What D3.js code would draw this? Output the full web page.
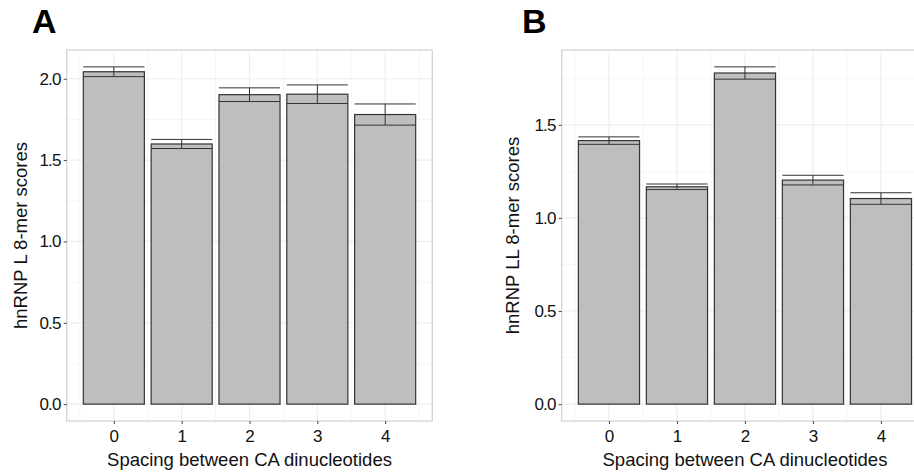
<!DOCTYPE html>
<html>
<head>
<meta charset="utf-8">
<script src="https://cdn.jsdelivr.net/npm/d3@7"></script>
<style>
  body { margin: 0; background: #fff; overflow: hidden; }
  svg { display: block; font-family: Arial, "Liberation Sans", sans-serif; }
</style>
</head>
<body>
<div id="chart"></div>
<script>
// spacing between CA dinucleotides
const spacing = [0, 1, 2, 3, 4];
const xTicks = [0, 1, 2, 3, 4];

// panel A: hnRNP L
const meanL = [2.043, 1.599, 1.902, 1.905, 1.780];
const seL = [0.030, 0.028, 0.042, 0.057, 0.065];
const yTicksL = [0.0, 0.5, 1.0, 1.5, 2.0];

// panel B: hnRNP LL
const meanLL = [1.415, 1.167, 1.778, 1.203, 1.104];
const seLL = [0.020, 0.015, 0.033, 0.026, 0.031];
const yTicksLL = [0.0, 0.5, 1.0, 1.5];

const W = 914, H = 472;
const svg = d3.select("#chart").append("svg").attr("width", W).attr("height", H);

function drawPanel(o) {
  const data = spacing.map((s, i) => ({ s, m: o.mean[i], lo: o.mean[i] - o.se[i], hi: o.mean[i] + o.se[i] }));
  const barW = 0.9;
  // continuous x, ggplot-like 5% expansion around bar extents
  const xmin = d3.min(spacing) - barW / 2, xmax = d3.max(spacing) + barW / 2;
  const xpad = (xmax - xmin) * 0.05;
  const x = d3.scaleLinear().domain([xmin - xpad, xmax + xpad]).range([o.left, o.left + o.width]);
  const ytop = d3.max(data, d => d.hi);
  const ypad = ytop * 0.05;
  const y = d3.scaleLinear().domain([-ypad, ytop + ypad]).range([o.bottom, o.top]);

  const g = svg.append("g");

  // minor grid
  const xMinor = d3.range(x.domain()[0], x.domain()[1], 0.5).map(v => Math.round(v * 2) / 2).filter(v => !xTicks.includes(v) && v > x.domain()[0]);
  const yMinor = d3.range(-0.25, ytop + ypad, 0.25).filter(v => !o.yTicks.some(t => Math.abs(t - v) < 1e-6) && v > y.domain()[0]);
  g.selectAll(".gxm").data(xMinor).enter().append("line")
    .attr("x1", d => x(d)).attr("x2", d => x(d)).attr("y1", o.top).attr("y2", o.bottom)
    .attr("stroke", "#f6f6f6").attr("stroke-width", 1);
  g.selectAll(".gym").data(yMinor).enter().append("line")
    .attr("x1", o.left).attr("x2", o.left + o.width).attr("y1", d => y(d)).attr("y2", d => y(d))
    .attr("stroke", "#f6f6f6").attr("stroke-width", 1);
  // major grid
  g.selectAll(".gx").data(xTicks).enter().append("line")
    .attr("x1", d => x(d)).attr("x2", d => x(d)).attr("y1", o.top).attr("y2", o.bottom)
    .attr("stroke", "#eeeeee").attr("stroke-width", 1.2);
  g.selectAll(".gy").data(o.yTicks).enter().append("line")
    .attr("x1", o.left).attr("x2", o.left + o.width).attr("y1", d => y(d)).attr("y2", d => y(d))
    .attr("stroke", "#eeeeee").attr("stroke-width", 1.2);

  // bars
  g.selectAll(".bar").data(data).enter().append("rect")
    .attr("x", d => x(d.s - barW / 2))
    .attr("width", d => x(d.s + barW / 2) - x(d.s - barW / 2))
    .attr("y", d => y(d.m))
    .attr("height", d => y(0) - y(d.m))
    .attr("fill", "#bebebe").attr("stroke", "#333").attr("stroke-width", 1.2);

  // error bars
  const eb = g.selectAll(".eb").data(data).enter().append("g");
  eb.append("line")
    .attr("x1", d => x(d.s)).attr("x2", d => x(d.s)).attr("y1", d => y(d.lo)).attr("y2", d => y(d.hi))
    .attr("stroke", "#333").attr("stroke-width", 1);
  eb.append("line")
    .attr("x1", d => x(d.s - barW / 2)).attr("x2", d => x(d.s + barW / 2)).attr("y1", d => y(d.hi)).attr("y2", d => y(d.hi))
    .attr("stroke", "#333").attr("stroke-width", 1);
  eb.append("line")
    .attr("x1", d => x(d.s - barW / 2)).attr("x2", d => x(d.s + barW / 2)).attr("y1", d => y(d.lo)).attr("y2", d => y(d.lo))
    .attr("stroke", "#333").attr("stroke-width", 1);

  // panel border
  g.append("rect").attr("x", o.left).attr("y", o.top).attr("width", o.width).attr("height", o.bottom - o.top)
    .attr("fill", "none").attr("stroke", "#d4d4d4").attr("stroke-width", 1.3);

  // axes
  const yAxis = g.append("g").attr("transform", `translate(${o.left},0)`)
    .call(d3.axisLeft(y).tickValues(o.yTicks).tickFormat(d3.format(".1f")).tickSize(3).tickPadding(3));
  yAxis.select(".domain").remove();
  yAxis.selectAll("line").attr("stroke", "#444");
  yAxis.selectAll("text").attr("font-size", 17).attr("fill", "#111").attr("letter-spacing", "-0.8px")
    .attr("font-family", "Arial, 'Liberation Sans', sans-serif");

  const xAxis = g.append("g").attr("transform", `translate(0,${o.bottom})`)
    .call(d3.axisBottom(x).tickValues(xTicks).tickFormat(d3.format("d")).tickSize(3).tickPadding(6));
  xAxis.select(".domain").remove();
  xAxis.selectAll("line").attr("stroke", "#444");
  xAxis.selectAll("text").attr("font-size", 17).attr("fill", "#111")
    .attr("font-family", "Arial, 'Liberation Sans', sans-serif");

  // titles
  g.append("text").attr("x", x((xmin + xmax) / 2)).attr("y", 465.5)
    .attr("text-anchor", "middle").attr("font-size", 18.5).attr("fill", "#111")
    .text("Spacing between CA dinucleotides");
  g.append("text").attr("transform", `translate(${o.ytitleX},${(o.top + o.bottom) / 2}) rotate(-90)`)
    .attr("text-anchor", "middle").attr("font-size", 18.5).attr("fill", "#111")
    .text(o.ytitle);
  svg.append("text").attr("x", o.tagX).attr("y", 33)
    .attr("font-size", 34).attr("font-weight", "bold").attr("fill", "#000").text(o.tag);
}

drawPanel({ mean: meanL, se: seL, yTicks: yTicksL, left: 66.7, width: 365.6, top: 50, bottom: 421,
  ytitle: "hnRNP L 8-mer scores", ytitleX: 27, tag: "A", tagX: 32 });
drawPanel({ mean: meanLL, se: seLL, yTicks: yTicksLL, left: 561.7, width: 366.5, top: 50, bottom: 421,
  ytitle: "hnRNP LL 8-mer scores", ytitleX: 519, tag: "B", tagX: 522 });
</script>
</body>
</html>
